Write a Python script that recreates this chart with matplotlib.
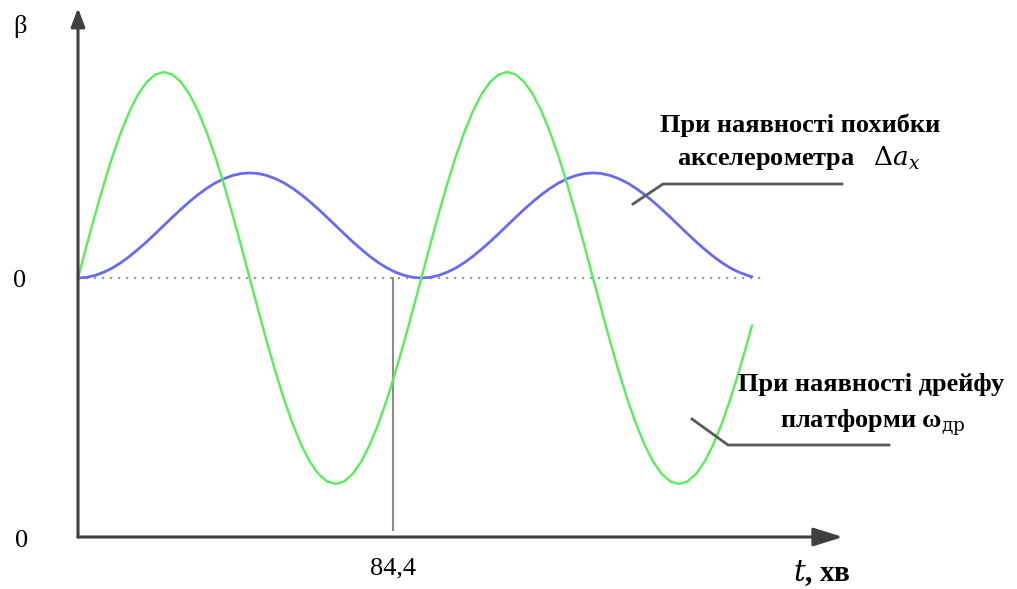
import matplotlib
matplotlib.use("Agg")
import matplotlib.pyplot as plt

plt.rcParams['mathtext.fontset'] = 'dejavuserif'

# time, minutes
t = [0.0, 2.3, 4.6, 6.9, 9.2, 11.5, 13.8, 16.1, 18.4, 20.7,
     23.0, 25.3, 27.6, 29.9, 32.2, 34.5, 36.8, 39.1, 41.4, 43.7,
     46.0, 48.3, 50.6, 52.9, 55.2, 57.5, 59.8, 62.1, 64.4, 66.7,
     69.0, 71.3, 73.6, 75.9, 78.2, 80.5, 82.8, 85.1, 87.4, 89.7,
     92.0, 94.3, 96.6, 98.9, 101.2, 103.5, 105.8, 108.1, 110.4, 112.7,
     115.0, 117.3, 119.6, 121.9, 124.2, 126.5, 128.8, 131.1, 133.4, 135.7,
     138.0, 140.3, 142.6, 144.9, 147.2, 149.5, 151.8, 154.1, 156.4, 158.7,
     161.0, 163.3, 165.6, 167.9, 170.2, 172.5, 174.8, 177.1, 179.4, 180.6]

# error with gyro drift (green)
beta_drift = [0.000, 0.313, 0.618, 0.908, 1.176, 1.414, 1.618, 1.782, 1.902, 1.975,
              2.000, 1.975, 1.902, 1.782, 1.618, 1.414, 1.176, 0.908, 0.618, 0.313,
              0.000, -0.313, -0.618, -0.908, -1.176, -1.414, -1.618, -1.782, -1.902, -1.975,
              -2.000, -1.975, -1.902, -1.782, -1.618, -1.414, -1.176, -0.908, -0.618, -0.313,
              0.000, 0.313, 0.618, 0.908, 1.176, 1.414, 1.618, 1.782, 1.902, 1.975,
              2.000, 1.975, 1.902, 1.782, 1.618, 1.414, 1.176, 0.908, 0.618, 0.313,
              0.000, -0.313, -0.618, -0.908, -1.176, -1.414, -1.618, -1.782, -1.902, -1.975,
              -2.000, -1.975, -1.902, -1.782, -1.618, -1.414, -1.176, -0.908, -0.618, -0.460]

# error with accelerometer bias (blue)
beta_accel = [0.000, 0.006, 0.025, 0.056, 0.097, 0.149, 0.210, 0.279, 0.352, 0.430,
              0.510, 0.590, 0.668, 0.742, 0.810, 0.871, 0.923, 0.964, 0.995, 1.014,
              1.020, 1.014, 0.995, 0.964, 0.923, 0.871, 0.810, 0.742, 0.668, 0.590,
              0.510, 0.430, 0.352, 0.279, 0.210, 0.149, 0.097, 0.056, 0.025, 0.006,
              0.000, 0.006, 0.025, 0.056, 0.097, 0.149, 0.210, 0.279, 0.352, 0.430,
              0.510, 0.590, 0.668, 0.742, 0.810, 0.871, 0.923, 0.964, 0.995, 1.014,
              1.020, 1.014, 0.995, 0.964, 0.923, 0.871, 0.810, 0.742, 0.668, 0.590,
              0.510, 0.430, 0.352, 0.279, 0.210, 0.149, 0.097, 0.056, 0.025, 0.012]

t_mark = 84.4
t_mark_label = "84,4"
zero_end = 183.3

W, H = 1017, 589
fig = plt.figure(figsize=(W / 100, H / 100), dpi=100)
fig.patch.set_facecolor('white')

x0_px, x1_px, y0_px, y1_px = 78, 843, 537, 8
ax = fig.add_axes([x0_px / W, 1 - y0_px / H, (x1_px - x0_px) / W, (y0_px - y1_px) / H])
sx = 84.4 / 315.0
xmax = (x1_px - x0_px) * sx
ymin = -(537 - 278) / 103.0
ymax = (278 - 8) / 103.0
ax.set_xlim(0, xmax)
ax.set_ylim(ymin, ymax)
ax.axis('off')

# zero dotted line
ax.plot([0, zero_end], [0, 0], color='#9a9a9a', lw=1.6, linestyle=(0, (1, 2.6)), zorder=1)
# marker line at 84.4
ax.plot([t_mark, t_mark], [0, -(530 - 278) / 103.0], color='#8c8c8c', lw=1.5, zorder=1)

ax.plot(t, beta_drift, color='#58ee58', lw=1.7, zorder=3, solid_capstyle='round')
ax.plot(t, beta_accel, color='#6a6af0', lw=2.0, zorder=2, solid_capstyle='round')

# axes arrows
ax.annotate('', xy=(xmax, ymin), xytext=(0, ymin), annotation_clip=False,
            arrowprops=dict(arrowstyle='-|>,head_length=0.9,head_width=0.28', color='#404040',
                            lw=2.2, mutation_scale=20, shrinkA=0, shrinkB=0))
ax.annotate('', xy=(0, ymax), xytext=(0, ymin), annotation_clip=False,
            arrowprops=dict(arrowstyle='-|>,head_length=0.8,head_width=0.3', color='#404040',
                            lw=2.2, mutation_scale=14, shrinkA=0, shrinkB=0))


def px(x, y):
    return ((x - 78) * sx, (278 - y) / 103.0)

# leader lines
for pts in ([(633, 204), (663, 184), (842, 184)], [(692, 419), (728, 445), (889, 445)]):
    xs = [px(*p)[0] for p in pts]
    ys = [px(*p)[1] for p in pts]
    ax.plot(xs, ys, color='#5a5a5a', lw=2.0, clip_on=False, zorder=4)


def ftext(x, y, s, **kw):
    fig.text(x / W, 1 - y / H, s, ha='center', va='center', **kw)

lib = ['Liberation Serif']
ftext(20, 27, 'β', fontsize=19, family=lib)
ftext(20, 281, '0', fontsize=19, family=lib)
ftext(22, 541, '0', fontsize=19, family=lib)
ftext(393, 568, t_mark_label, fontsize=19, family=lib)

lab = dict(fontsize=19, family=lib, weight='bold')
ftext(800, 125, 'При наявності похибки', **lab)
ftext(799, 158, r'акселерометра   $\mathit{\Delta a_x}$', **lab)
ftext(871, 385, 'При наявності дрейфу', **lab)
ftext(873, 423, r'платформи ω$_{\mathrm{др}}$', **lab)
ftext(822, 573, r'$\mathit{t}$, хв', fontsize=21, family=lib, weight='bold')

fig.savefig('out.png', dpi=100, facecolor='white')
